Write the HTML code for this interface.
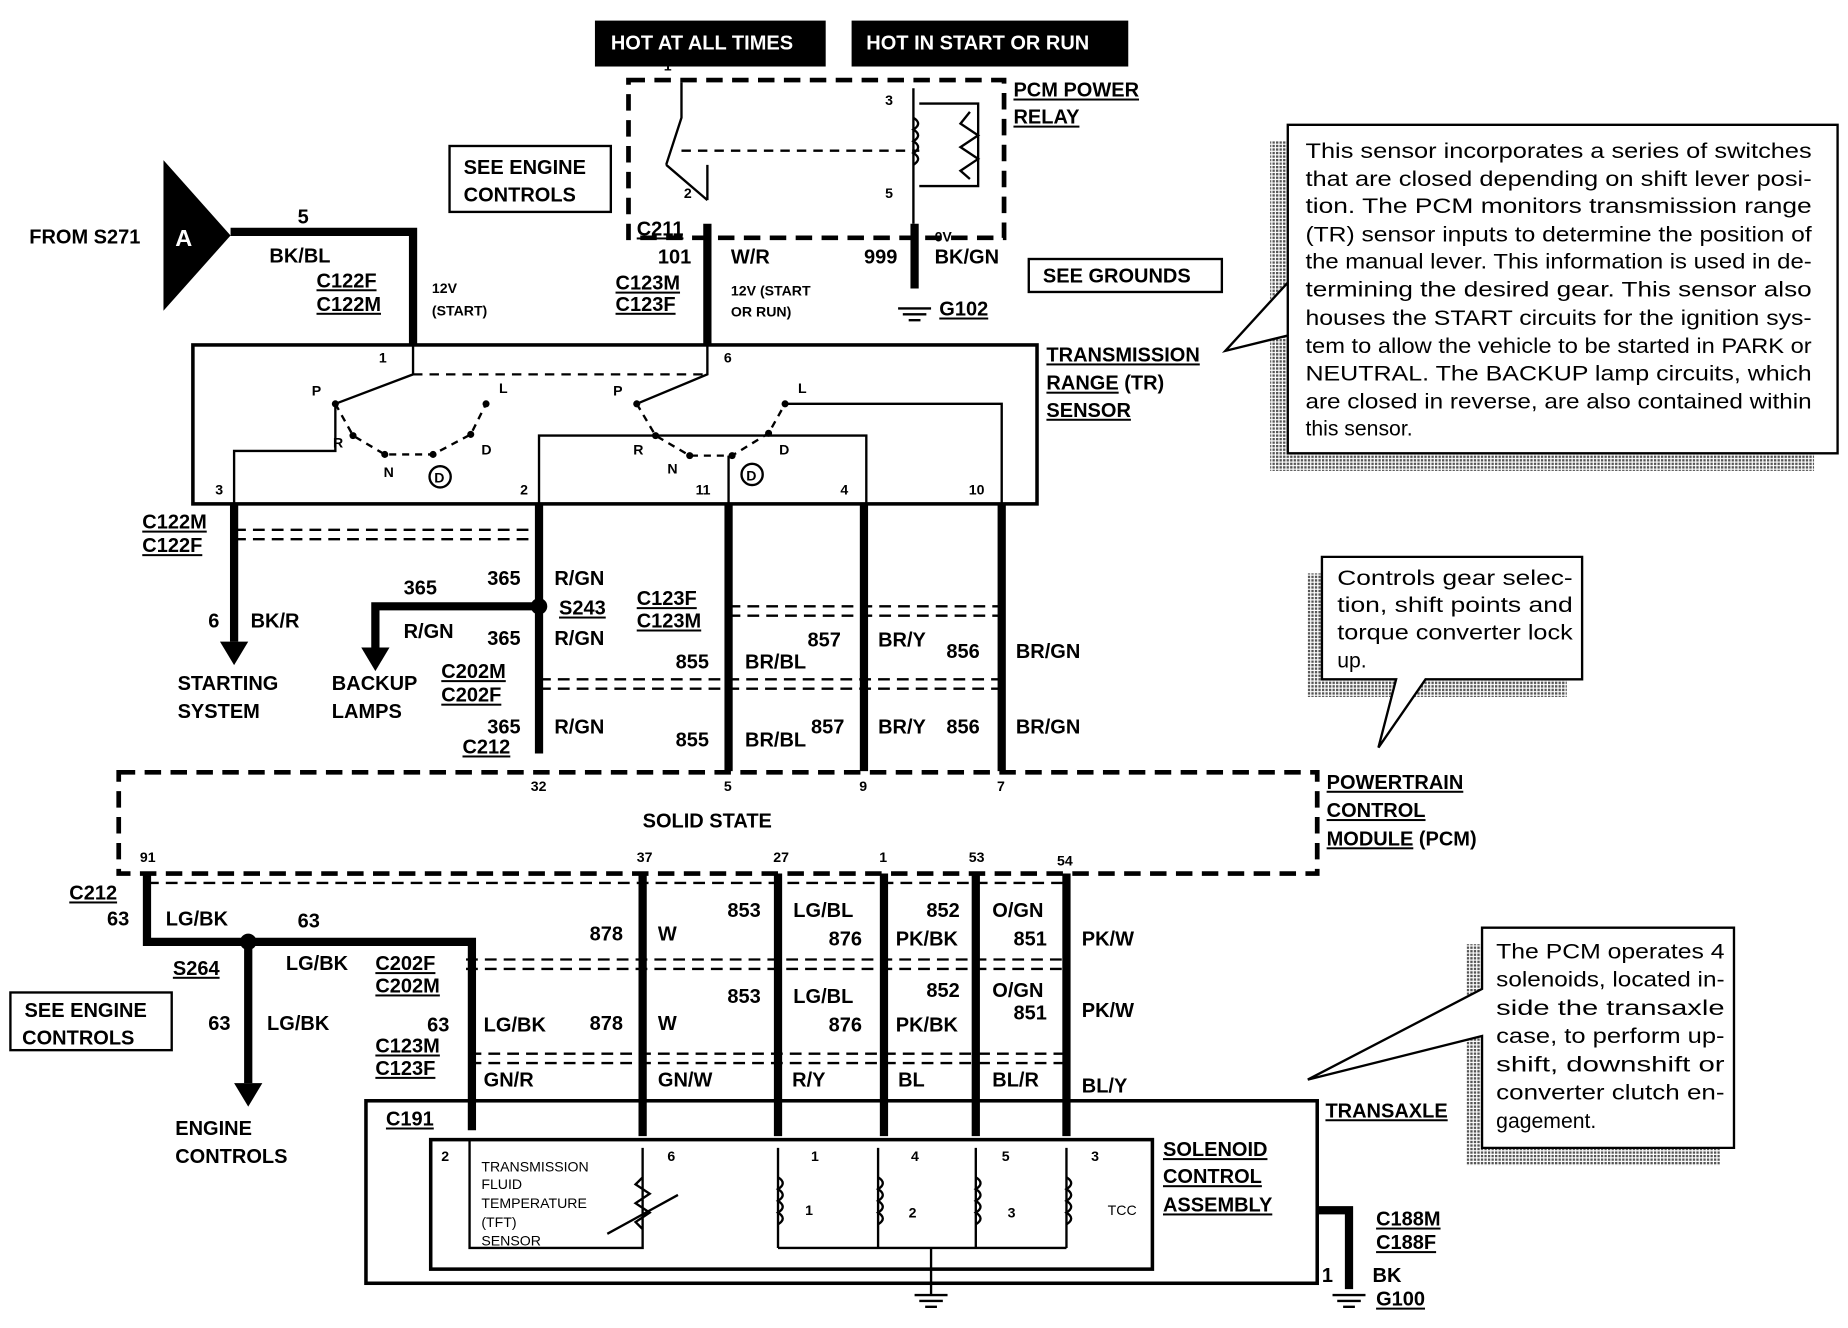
<!DOCTYPE html>
<html><head><meta charset="utf-8"><style>
html,body{margin:0;padding:0;background:#fff;}
svg{display:block;}
text{font-family:"Liberation Sans",Arial,sans-serif;font-weight:bold;font-size:17px;fill:#000;}
.s{font-size:12px;}
.n{font-weight:normal;font-size:18px;}
.t{font-weight:normal;font-size:12px;}
.u{text-decoration:underline;}
</style></head><body>
<svg width="1848" height="1328" viewBox="0 0 1568 1128" xmlns="http://www.w3.org/2000/svg">
<defs>
<pattern id="dith" width="3" height="3" patternUnits="userSpaceOnUse"><rect width="3" height="3" fill="#fff"/><rect width="2" height="2" fill="#555"/></pattern>
</defs>
<g fill="none" stroke="#000">
<rect x="505" y="18" width="195" height="38" fill="#000"/>
<rect x="723" y="18" width="234" height="38" fill="#000"/>
<rect x="533" y="68" width="319" height="134" stroke-width="4" stroke-dasharray="14 8"/>
<path d="M578 70 V100 L565 140 M600 170 V140 M565 140 L600 170" stroke-width="2"/>
<path d="M578 128 H780" stroke-width="2" stroke-dasharray="8 6"/>
<path d="M775 75 V190 M780 88 H830 V158 H780 M823 95 L815 105 L830 115 L815 125 L830 135 L815 145 L823 152" stroke-width="2"/>
<path d="M775 100 q8 5 0 10 q8 5 0 10 q8 5 0 10 q8 5 0 10" stroke-width="2"/>
<rect x="381" y="124" width="137" height="56" stroke-width="2"/>
<rect x="873" y="220" width="164" height="28" stroke-width="2"/>
<rect x="8" y="843" width="137" height="49" stroke-width="2"/>
<path d="M195 197 H350 V292" stroke-width="7"/>
<path d="M600 190 V292" stroke-width="7"/>
<path d="M776 190 V245" stroke-width="7"/>
<path d="M762 262 H790 M766 267 H786 M771 272 H781" stroke-width="2"/>
<rect x="163" y="293" width="717" height="135" stroke-width="3"/>
<path d="M350 293 V318 L284 343 M600 293 V318 L540 343" stroke-width="2"/>
<path d="M350 318 H600" stroke-width="2" stroke-dasharray="8 6"/>
<path d="M198 428 V383 H284 V343 M457 428 V370 H735 V428 M618 428 V387 M850 428 V343 H666" stroke-width="2"/>
<path d="M284 343 L299 370 L326 386 L367 386 L399 369 L412 343 M540 343 L556 370 L585 387 L621 387 L652 368 L666 343" stroke-width="2" stroke-dasharray="6 5"/>
<circle cx="373" cy="405" r="9" stroke-width="2"/>
<circle cx="638" cy="403" r="9" stroke-width="2"/>
<path d="M198 428 V545 M457 428 V640 M618 428 V655 M733 428 V655 M850 428 V655" stroke-width="7"/>
<path d="M457 515 H318 V550" stroke-width="7"/>
<path d="M198 450 H457 M198 458 H457 M618 515 H850 M618 523 H850 M457 577 H850 M457 585 H850" stroke-width="2" stroke-dasharray="10 6"/>
<rect x="100" y="656" width="1018" height="86" stroke-width="4" stroke-dasharray="14 8"/>
<path d="M124 742 V800 H400 V960 M210 800 V920 M545 742 V965 M660 742 V965 M750 742 V965 M828 742 V965 M905 742 V965" stroke-width="7"/>
<path d="M124 750 H905 M395 815 H905 M395 823 H905 M398 895 H905 M398 903 H905" stroke-width="2" stroke-dasharray="10 6"/>
<rect x="310" y="935" width="808" height="155" stroke-width="3"/>
<rect x="365" y="968" width="613" height="110" stroke-width="3"/>
<path d="M398 968 V1060 H545 V975 M515 1048 L575 1015 M545 1000 l-6 6 12 8 -12 8 12 8 -12 8 6 6" stroke-width="2"/>
<path d="M660 975 V1060 M745 975 V1060 M828 975 V1060 M905 975 V1060 M660 1060 H905 M790 1060 V1100 M776 1100 H804 M780 1105 H800 M785 1110 H795" stroke-width="2"/>
<path d="M660 1000 q8 5 0 10 q8 5 0 10 q8 5 0 10 q8 5 0 10 M745 1000 q8 5 0 10 q8 5 0 10 q8 5 0 10 q8 5 0 10 M828 1000 q8 5 0 10 q8 5 0 10 q8 5 0 10 q8 5 0 10 M905 1000 q8 5 0 10 q8 5 0 10 q8 5 0 10 q8 5 0 10" stroke-width="2"/>
<path d="M1118 1028 H1145 V1095" stroke-width="7"/>
<path d="M1131 1100 H1159 M1135 1105 H1155 M1140 1110 H1150" stroke-width="2"/>
<rect x="1078" y="120" width="462" height="280" fill="url(#dith)" stroke="none"/>
<path d="M1093 106 H1560 V385 H1093 V240 L1040 298 L1093 285 Z" fill="#fff" stroke-width="2"/>
<rect x="1110" y="487" width="220" height="105" fill="url(#dith)" stroke="none"/>
<path d="M1122 473 H1343 V577 H1210 L1170 635 L1185 577 H1122 Z" fill="#fff" stroke-width="2"/>
<rect x="1245" y="802" width="215" height="188" fill="url(#dith)" stroke="none"/>
<path d="M1258 788 H1472 V975 H1258 V880 L1110 917 L1258 840 Z" fill="#fff" stroke-width="2"/>
</g>
<g fill="#000">
<polygon points="138,136 195,200 138,264"/>
<polygon points="186,545 210,545 198,565"/>
<polygon points="306,550 330,550 318,570"/>
<polygon points="198,920 222,920 210,940"/>
<circle cx="457" cy="515" r="7"/>
<circle cx="210" cy="800" r="7"/>
<circle cx="284" cy="343" r="3"/><circle cx="299" cy="370" r="3"/><circle cx="326" cy="386" r="3"/><circle cx="367" cy="386" r="3"/><circle cx="399" cy="369" r="3"/><circle cx="412" cy="343" r="3"/>
<circle cx="540" cy="343" r="3"/><circle cx="556" cy="370" r="3"/><circle cx="585" cy="387" r="3"/><circle cx="621" cy="387" r="3"/><circle cx="652" cy="368" r="3"/><circle cx="666" cy="343" r="3"/>
</g>
<text x="518" y="42" style="fill:#fff">HOT AT ALL TIMES</text>
<text x="735" y="42" style="fill:#fff">HOT IN START OR RUN</text>
<text x="148" y="209" style="fill:#fff;font-size:20px">A</text>
<text x="860" y="82" class="u">PCM POWER</text>
<text x="860" y="105" class="u">RELAY</text>
<text x="563" y="60" class="s">1</text><text x="751" y="89" class="s">3</text><text x="580" y="168" class="s">2</text><text x="751" y="168" class="s">5</text>
<text x="393" y="148">SEE ENGINE</text><text x="393" y="171">CONTROLS</text>
<text x="885" y="240">SEE GROUNDS</text>
<text x="24" y="207">FROM S271</text>
<text x="252" y="190">5</text><text x="228" y="223">BK/BL</text>
<text x="268" y="244" class="u">C122F</text><text x="268" y="264" class="u">C122M</text>
<text x="366" y="249" class="s">12V</text><text x="366" y="268" class="s">(START)</text>
<text x="540" y="200" class="u">C211</text>
<text x="558" y="224">101</text><text x="620" y="224">W/R</text>
<text x="522" y="246" class="u">C123M</text><text x="522" y="264" class="u">C123F</text>
<text x="620" y="251" class="s">12V (START</text><text x="620" y="269" class="s">OR RUN)</text>
<text x="793" y="205" class="s">0V</text><text x="793" y="224">BK/GN</text><text x="733" y="224">999</text>
<text x="797" y="268" class="u">G102</text>
<text x="888" y="307" class="u">TRANSMISSION</text>
<text x="888" y="331"><tspan class="u">RANGE</tspan> (TR)</text>
<text x="888" y="354" class="u">SENSOR</text>
<text x="321" y="308" class="s">1</text><text x="614" y="308" class="s">6</text>
<text x="264" y="336" class="s">P</text><text x="282" y="380" class="s">R</text><text x="325" y="405" class="s">N</text><text x="408" y="386" class="s">D</text><text x="423" y="334" class="s">L</text>
<text x="520" y="336" class="s">P</text><text x="537" y="386" class="s">R</text><text x="566" y="402" class="s">N</text><text x="661" y="386" class="s">D</text><text x="677" y="334" class="s">L</text>
<text x="368" y="410" class="s">D</text><text x="633" y="408" class="s">D</text>
<text x="182" y="420" class="s">3</text><text x="441" y="420" class="s">2</text><text x="590" y="420" class="s">11</text><text x="713" y="420" class="s">4</text><text x="822" y="420" class="s">10</text>
<text x="120" y="449" class="u">C122M</text><text x="120" y="469" class="u">C122F</text>
<text x="176" y="533">6</text><text x="212" y="533">BK/R</text>
<text x="150" y="586">STARTING</text><text x="150" y="610">SYSTEM</text>
<text x="413" y="497">365</text><text x="470" y="497">R/GN</text>
<text x="342" y="505">365</text><text x="342" y="542">R/GN</text>
<text x="474" y="522" class="u">S243</text>
<text x="413" y="548">365</text><text x="470" y="548">R/GN</text>
<text x="281" y="586">BACKUP</text><text x="281" y="610">LAMPS</text>
<text x="374" y="576" class="u">C202M</text><text x="374" y="596" class="u">C202F</text>
<text x="413" y="623">365</text><text x="470" y="623">R/GN</text>
<text x="392" y="640" class="u">C212</text>
<text x="540" y="514" class="u">C123F</text><text x="540" y="533" class="u">C123M</text>
<text x="573" y="568">855</text><text x="632" y="568">BR/BL</text><text x="685" y="549">857</text><text x="745" y="549">BR/Y</text><text x="803" y="559">856</text><text x="862" y="559">BR/GN</text>
<text x="573" y="634">855</text><text x="632" y="634">BR/BL</text><text x="688" y="623">857</text><text x="745" y="623">BR/Y</text><text x="803" y="623">856</text><text x="862" y="623">BR/GN</text>
<text x="450" y="672" class="s">32</text><text x="614" y="672" class="s">5</text><text x="729" y="672" class="s">9</text><text x="846" y="672" class="s">7</text>
<text x="545" y="703">SOLID STATE</text>
<text x="118" y="732" class="s">91</text><text x="540" y="732" class="s">37</text><text x="656" y="732" class="s">27</text><text x="746" y="732" class="s">1</text><text x="822" y="732" class="s">53</text><text x="897" y="735" class="s">54</text>
<text x="1126" y="670" class="u">POWERTRAIN</text><text x="1126" y="694" class="u">CONTROL</text><text x="1126" y="718"><tspan class="u">MODULE</tspan> (PCM)</text>
<text x="58" y="764" class="u">C212</text>
<text x="90" y="786">63</text><text x="140" y="786">LG/BK</text><text x="252" y="788">63</text>
<text x="242" y="824">LG/BK</text><text x="146" y="828" class="u">S264</text>
<text x="318" y="824" class="u">C202F</text><text x="318" y="843" class="u">C202M</text>
<text x="20" y="864">SEE ENGINE</text><text x="18" y="887">CONTROLS</text>
<text x="176" y="875">63</text><text x="226" y="875">LG/BK</text>
<text x="148" y="964">ENGINE</text><text x="148" y="988">CONTROLS</text>
<text x="362" y="876">63</text><text x="410" y="876">LG/BK</text>
<text x="318" y="894" class="u">C123M</text><text x="318" y="913" class="u">C123F</text>
<text x="500" y="799">878</text><text x="558" y="799">W</text>
<text x="617" y="779">853</text><text x="673" y="779">LG/BL</text><text x="703" y="803">876</text>
<text x="786" y="779">852</text><text x="760" y="803">PK/BK</text><text x="842" y="779">O/GN</text><text x="860" y="803">851</text><text x="918" y="803">PK/W</text>
<text x="617" y="852">853</text><text x="673" y="852">LG/BL</text><text x="500" y="875">878</text><text x="558" y="875">W</text><text x="703" y="876">876</text>
<text x="786" y="847">852</text><text x="760" y="876">PK/BK</text><text x="842" y="847">O/GN</text><text x="860" y="866">851</text><text x="918" y="864">PK/W</text>
<text x="410" y="923">GN/R</text><text x="558" y="923">GN/W</text><text x="672" y="923">R/Y</text><text x="762" y="923">BL</text><text x="842" y="923">BL/R</text><text x="918" y="928">BL/Y</text>
<text x="327" y="956" class="u">C191</text>
<text x="1125" y="949" class="u">TRANSAXLE</text>
<text x="987" y="982" class="u">SOLENOID</text><text x="987" y="1005" class="u">CONTROL</text><text x="987" y="1029" class="u">ASSEMBLY</text>
<text x="374" y="986" class="s">2</text><text x="566" y="986" class="s">6</text><text x="688" y="986" class="s">1</text><text x="773" y="986" class="s">4</text><text x="850" y="986" class="s">5</text><text x="926" y="986" class="s">3</text>
<text x="408" y="995" class="t">TRANSMISSION</text><text x="408" y="1010" class="t">FLUID</text><text x="408" y="1026" class="t">TEMPERATURE</text><text x="408" y="1042" class="t">(TFT)</text><text x="408" y="1058" class="t">SENSOR</text>
<text x="683" y="1032" class="s">1</text><text x="771" y="1034" class="s">2</text><text x="855" y="1034" class="s">3</text><text x="940" y="1032" class="t">TCC</text>
<text x="1168" y="1041" class="u">C188M</text><text x="1168" y="1061" class="u">C188F</text>
<text x="1122" y="1089">1</text><text x="1165" y="1089">BK</text><text x="1168" y="1109" class="u">G100</text>
<g>
<text x="1108" y="134" class="n" textLength="430" lengthAdjust="spacingAndGlyphs">This sensor incorporates a series of switches</text>
<text x="1108" y="158" class="n" textLength="430" lengthAdjust="spacingAndGlyphs">that are closed depending on shift lever posi-</text>
<text x="1108" y="181" class="n" textLength="430" lengthAdjust="spacingAndGlyphs">tion.  The PCM monitors transmission range</text>
<text x="1108" y="205" class="n" textLength="430" lengthAdjust="spacingAndGlyphs">(TR) sensor inputs to determine the position of</text>
<text x="1108" y="228" class="n" textLength="430" lengthAdjust="spacingAndGlyphs">the manual lever. This information is used in de-</text>
<text x="1108" y="252" class="n" textLength="430" lengthAdjust="spacingAndGlyphs">termining the desired gear. This sensor also</text>
<text x="1108" y="276" class="n" textLength="430" lengthAdjust="spacingAndGlyphs">houses the START circuits for the ignition sys-</text>
<text x="1108" y="300" class="n" textLength="430" lengthAdjust="spacingAndGlyphs">tem to allow the vehicle to be started in PARK or</text>
<text x="1108" y="323" class="n" textLength="430" lengthAdjust="spacingAndGlyphs">NEUTRAL.  The BACKUP lamp circuits, which</text>
<text x="1108" y="347" class="n" textLength="430" lengthAdjust="spacingAndGlyphs">are closed in reverse, are also contained within</text>
<text x="1108" y="370" class="n">this sensor.</text>
<text x="1135" y="497" class="n" textLength="200" lengthAdjust="spacingAndGlyphs">Controls gear selec-</text>
<text x="1135" y="520" class="n" textLength="200" lengthAdjust="spacingAndGlyphs">tion, shift points and</text>
<text x="1135" y="543" class="n" textLength="200" lengthAdjust="spacingAndGlyphs">torque converter lock</text>
<text x="1135" y="567" class="n">up.</text>
<text x="1270" y="814" class="n" textLength="194" lengthAdjust="spacingAndGlyphs">The PCM operates 4</text>
<text x="1270" y="838" class="n" textLength="194" lengthAdjust="spacingAndGlyphs">solenoids, located in-</text>
<text x="1270" y="862" class="n" textLength="194" lengthAdjust="spacingAndGlyphs">side the transaxle</text>
<text x="1270" y="886" class="n" textLength="194" lengthAdjust="spacingAndGlyphs">case, to perform up-</text>
<text x="1270" y="910" class="n" textLength="194" lengthAdjust="spacingAndGlyphs">shift, downshift or</text>
<text x="1270" y="934" class="n" textLength="194" lengthAdjust="spacingAndGlyphs">converter clutch en-</text>
<text x="1270" y="958" class="n">gagement.</text>
</g>
</svg>
</body></html>
